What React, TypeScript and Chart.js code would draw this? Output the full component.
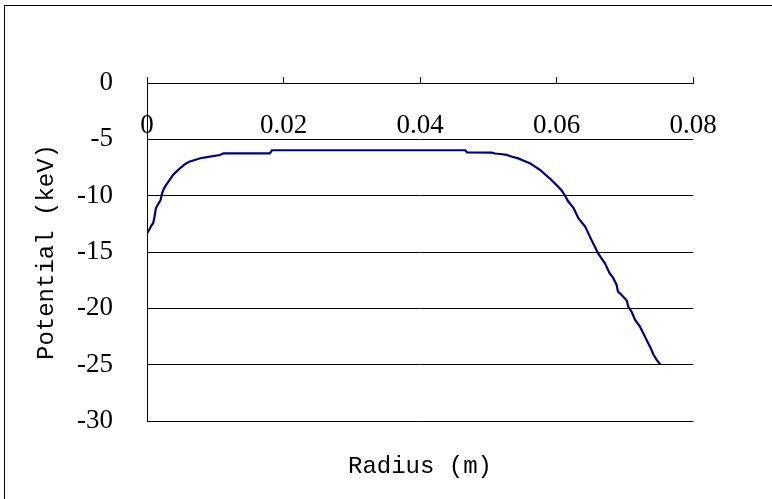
import React, { useEffect, useRef } from 'react';
import { Chart, registerables } from 'chart.js';

Chart.register(...registerables);

// Radius (m)
const radius = [
  0, 0.0003, 0.0007, 0.0009, 0.0011, 0.0013, 0.0017, 0.002, 0.0022, 0.0025,
  0.0029, 0.0033, 0.0038, 0.0043, 0.005, 0.0056, 0.0062, 0.007, 0.0078, 0.0092,
  0.0107, 0.0112, 0.018, 0.0183, 0.0466, 0.0469, 0.0505, 0.051, 0.0518, 0.0527,
  0.0535, 0.0544, 0.0552, 0.0561, 0.0568, 0.0576, 0.0583, 0.059, 0.06, 0.0607,
  0.0612, 0.0617, 0.0625, 0.0632, 0.0642, 0.0651, 0.0661, 0.0671, 0.0678, 0.0683,
  0.0688, 0.069, 0.0695, 0.0703, 0.0705, 0.071, 0.0715, 0.0722, 0.0727, 0.0732,
  0.0737, 0.0742, 0.0747, 0.0752,
];

// Potential (keV)
const potential = [
  -13.34, -13.05, -12.6, -12.45, -11.87, -11.12, -10.68, -10.38, -9.79, -9.35,
  -8.96, -8.61, -8.17, -7.87, -7.48, -7.19, -6.98, -6.83, -6.68, -6.54,
  -6.39, -6.24, -6.24, -5.97, -5.97, -6.15, -6.18, -6.26, -6.3, -6.38,
  -6.55, -6.69, -6.9, -7.13, -7.4, -7.72, -8.1, -8.46, -9.05, -9.5,
  -9.94, -10.5, -11.1, -12.0, -12.75, -13.9, -15.12, -16.0, -16.9, -17.3,
  -17.9, -18.5, -18.8, -19.3, -19.85, -20.3, -21.0, -21.6, -22.2, -22.8,
  -23.4, -24.1, -24.6, -24.95,
];

const xTickValues = [0, 0.02, 0.04, 0.06, 0.08];
const yTickValues = [0, -5, -10, -15, -20, -25, -30];
const xTitle = 'Radius (m)';
const yTitle = 'Potential (keV)';

export default function App() {
  const ref = useRef<HTMLCanvasElement>(null);

  useEffect(() => {
    document.body.style.margin = '0';
    const frame = {
      id: 'frame',
      beforeDraw(chart: any) {
        const ctx = chart.ctx;
        ctx.save();
        ctx.strokeStyle = '#000';
        ctx.lineWidth = 1;
        ctx.strokeRect(4.5, 5.5, 900, 700);
        ctx.restore();
      },
    };
    const tickFont = { family: 'Liberation Serif', size: 27 };
    const titleFont = { family: 'Liberation Mono', size: 24 };
    const chart = new Chart(ref.current as HTMLCanvasElement, {
      type: 'line',
      data: {
        datasets: [
          {
            data: radius.map((r, i) => ({ x: r, y: potential[i] })),
            borderColor: '#000080',
            borderWidth: 2.2,
            pointRadius: 0,
            tension: 0,
            fill: false,
          },
        ],
      },
      options: {
        responsive: false,
        animation: false,
        layout: { padding: { left: 0, top: 83, right: 79, bottom: 18 } },
        plugins: { legend: { display: false }, tooltip: { enabled: false } },
        scales: {
          x: {
            type: 'linear',
            position: { y: 0 } as any,
            min: 0,
            max: 0.08,
            afterBuildTicks: (s: any) => {
              s.ticks = xTickValues.map((v) => ({ value: v }));
            },
            grid: {
              display: true,
              drawOnChartArea: false,
              drawTicks: true,
              tickLength: -7,
              color: '#000',
              lineWidth: 1,
            },
            border: { display: true, color: '#000', width: 1 },
            ticks: {
              autoSkip: false,
              maxRotation: 0,
              minRotation: 0,
              padding: 34,
              color: '#000',
              font: tickFont,
            },
          },
          y: {
            type: 'linear',
            position: 'left',
            min: -30,
            max: 0,
            afterBuildTicks: (s: any) => {
              s.ticks = yTickValues.map((v) => ({ value: v }));
            },
            afterFit: (s: any) => {
              s.width = 147;
            },
            grid: { color: '#000', lineWidth: 1, drawTicks: false },
            border: { display: true, color: '#000', width: 1 },
            ticks: { padding: 34, color: '#000', font: tickFont },
            title: {
              display: true,
              text: yTitle,
              color: '#000',
              font: titleFont,
              padding: { top: 32, bottom: 0 },
            },
          },
          x2: {
            type: 'linear',
            position: 'bottom',
            afterFit: (s: any) => {
              s.height = 60;
            },
            grid: { display: false },
            border: { display: false },
            ticks: { display: false },
            title: {
              display: true,
              text: xTitle,
              color: '#000',
              font: titleFont,
              padding: { top: 0, bottom: 0 },
            },
          },
        },
      } as any,
      plugins: [frame],
    });
    return () => chart.destroy();
  }, []);

  return <canvas ref={ref} width={772} height={499} style={{ display: 'block' }} />;
}
